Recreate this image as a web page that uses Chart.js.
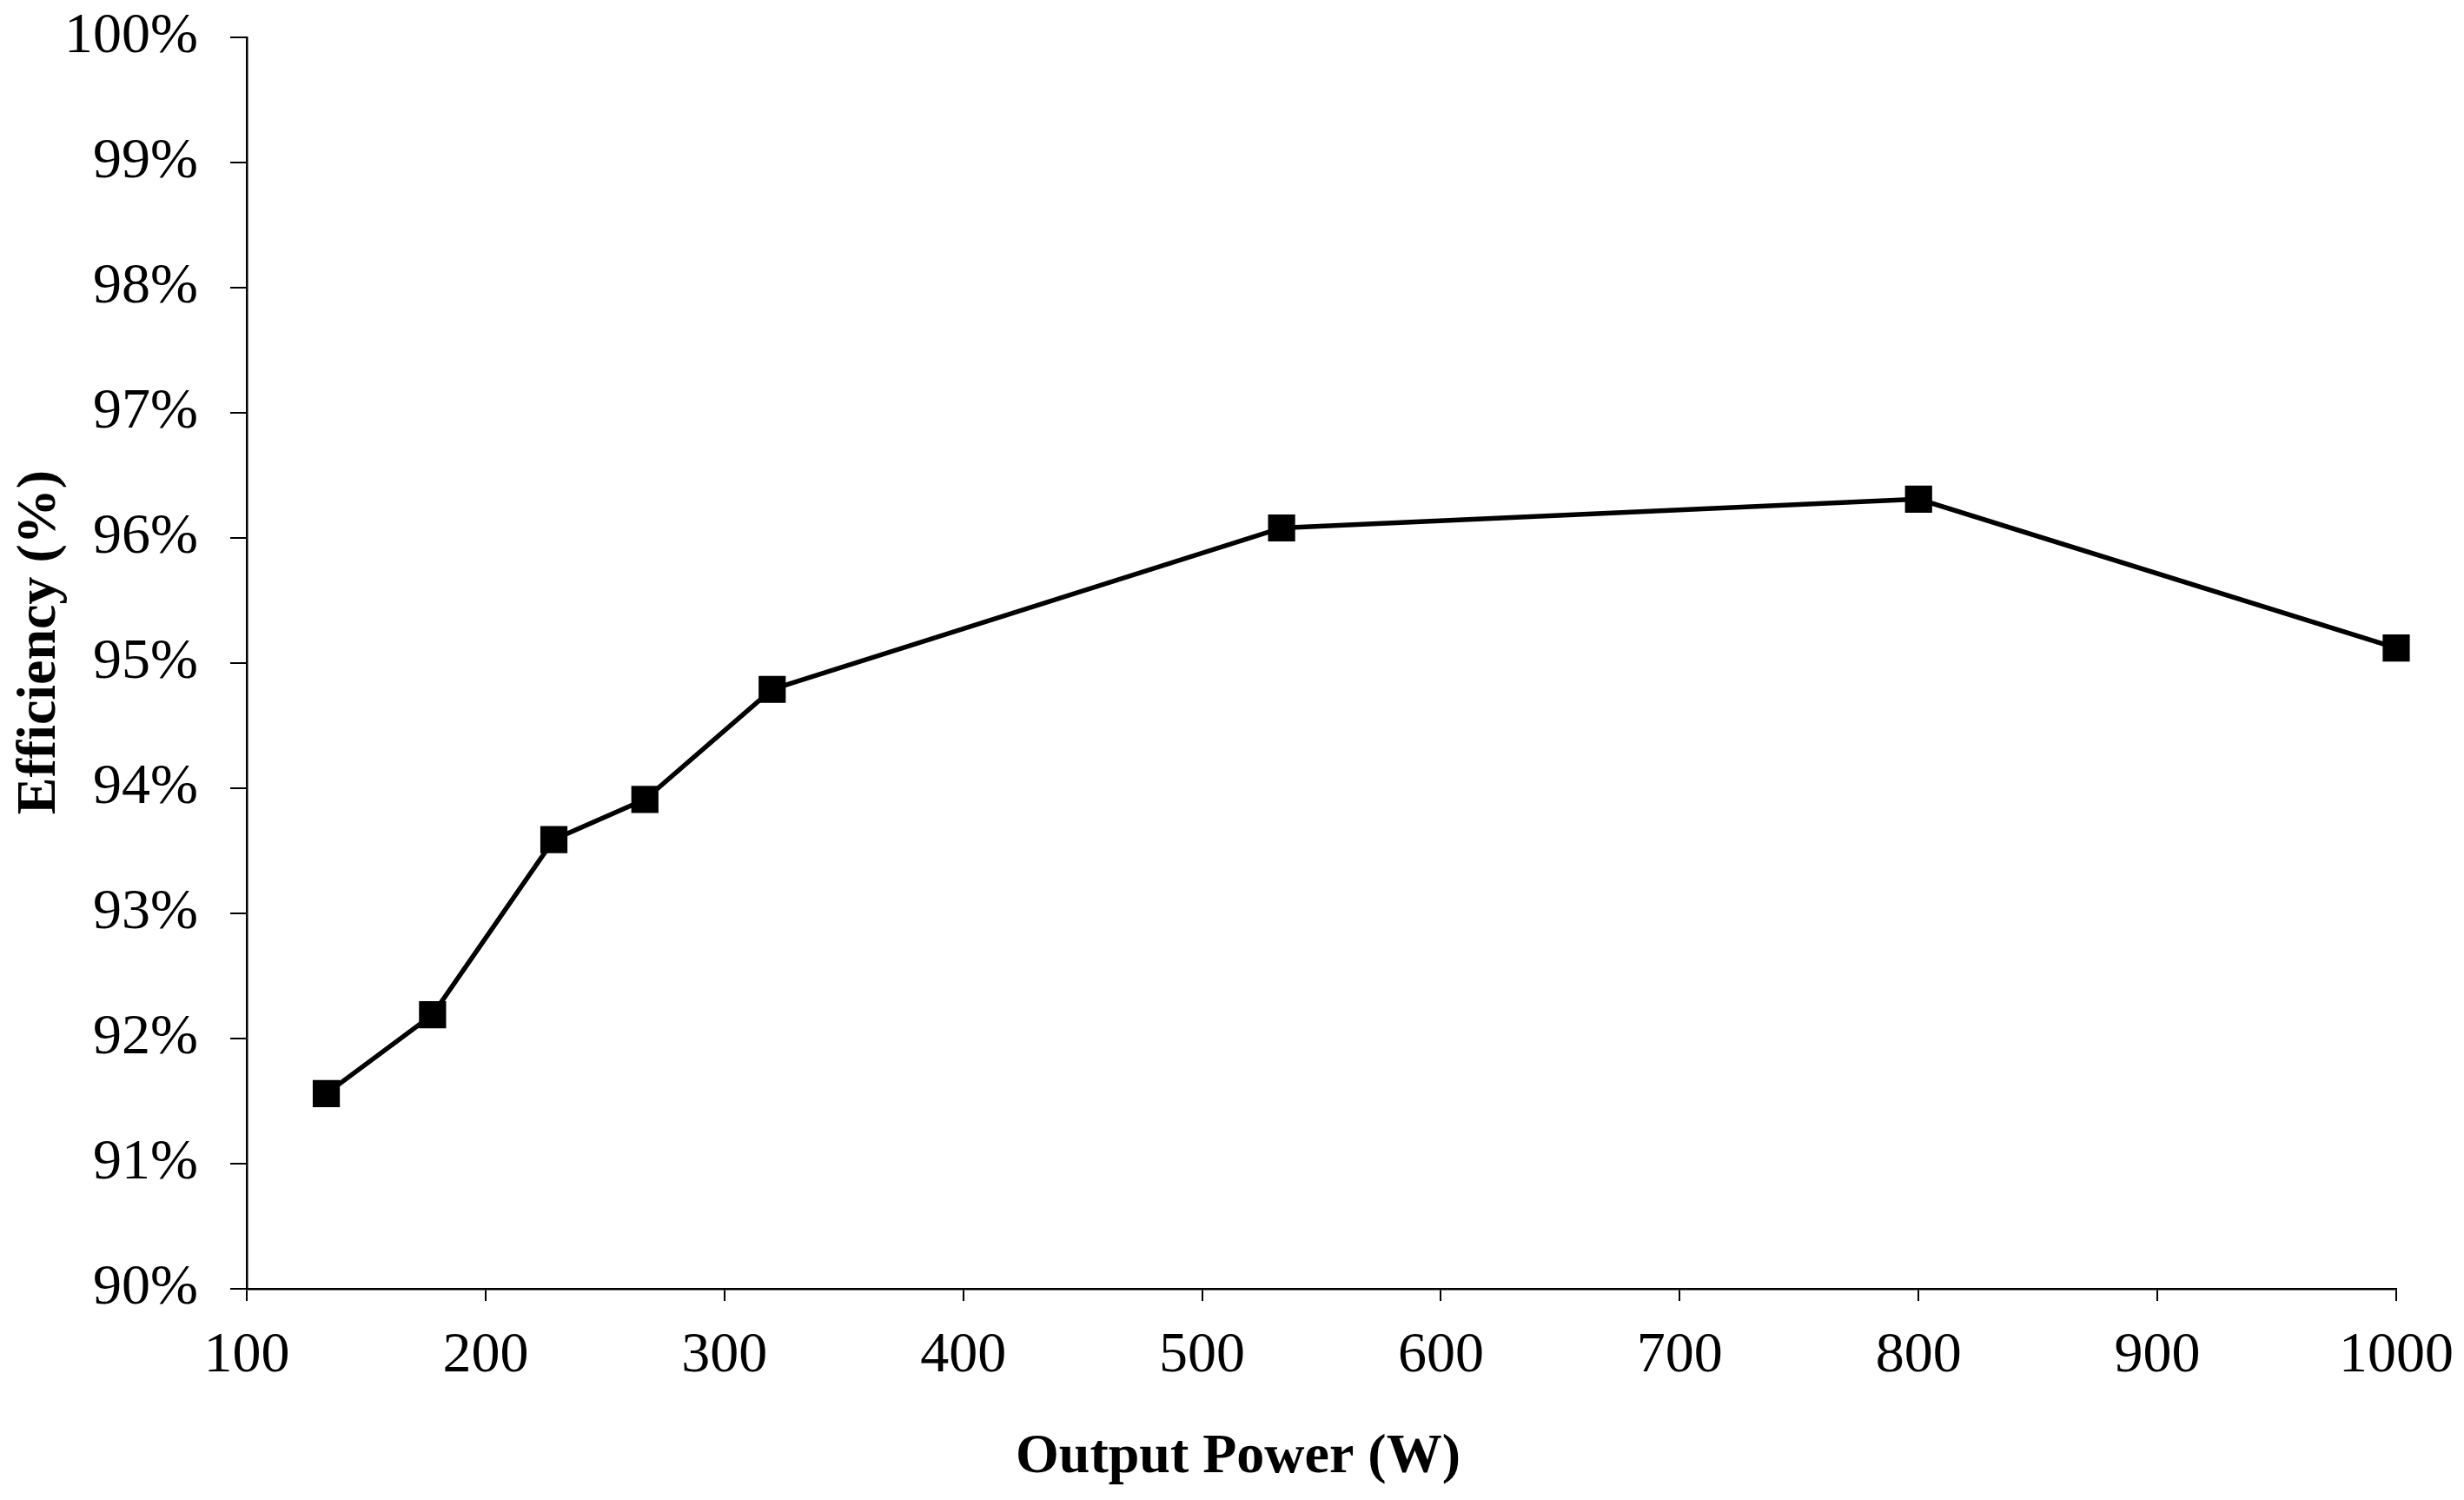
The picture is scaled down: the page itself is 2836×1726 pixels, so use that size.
<!DOCTYPE html>
<html>
<head>
<meta charset="utf-8">
<script src="https://cdn.jsdelivr.net/npm/chart.js@4/dist/chart.umd.min.js"></script>
<style>
  html, body { margin: 0; padding: 0; background: #fff; }
  #wrap { width: 2836px; height: 1726px; }
</style>
</head>
<body>
<div id="wrap"><canvas id="c" width="2836" height="1726"></canvas></div>
<script>
// Data
const outputPower = [133.3, 177.8, 228.6, 266.7, 320, 533.3, 800, 1000];
const efficiency  = [91.56, 92.19, 93.59, 93.91, 94.79, 96.08, 96.31, 95.12];
const xTickLabels = ['100','200','300','400','500','600','700','800','900','1000'];
const yTickLabels = ['90%','91%','92%','93%','94%','95%','96%','97%','98%','99%','100%'];
const xTitle = 'Output Power (W)';
const yTitle = 'Efficiency (%)';

const serif = "'Liberation Serif', 'Times New Roman', serif";

const points = outputPower.map((x, i) => ({ x: x, y: efficiency[i] }));

function noOverflowPadding(s) {
  s.paddingTop = 0; s.paddingBottom = 0; s.paddingLeft = 0; s.paddingRight = 0;
}

new Chart(document.getElementById('c'), {
  type: 'line',
  data: {
    datasets: [{
      data: points,
      borderColor: '#000',
      backgroundColor: '#000',
      borderWidth: 5.5,
      pointStyle: 'rect',
      pointRadius: 21,
      pointBorderWidth: 1.5,
      pointBackgroundColor: '#000',
      pointBorderColor: '#000',
      tension: 0,
      clip: false
    }]
  },
  options: {
    responsive: false,
    devicePixelRatio: 1,
    animation: false,
    events: [],
    layout: { padding: { top: 43, right: 78, left: 0, bottom: 0 } },
    plugins: {
      legend: { display: false },
      tooltip: { enabled: false },
      title: { display: false }
    },
    scales: {
      x: {
        type: 'linear',
        min: 100,
        max: 1000,
        afterFit: s => { s.height = 243; noOverflowPadding(s); },
        ticks: {
          stepSize: 100,
          color: '#000',
          font: { family: serif, size: 66 },
          padding: 24,
          maxRotation: 0,
          autoSkip: false,
          callback: (v) => {
            const i = Math.round((v - 100) / 100);
            return xTickLabels[i] !== undefined ? xTickLabels[i] : '';
          }
        },
        grid: {
          display: true,
          drawOnChartArea: false,
          drawTicks: true,
          tickLength: 14,
          color: '#000',
          lineWidth: 2
        },
        border: { display: true, color: '#000', width: 2.5 },
        title: {
          display: true,
          text: xTitle + '\u2003\u2003\u2003',
          color: '#000',
          font: { family: serif, size: 64, weight: 'bold' },
          padding: { top: 0, bottom: 10 }
        }
      },
      y: {
        type: 'linear',
        min: 90,
        max: 100,
        afterFit: s => { s.width = 284; noOverflowPadding(s); },
        ticks: {
          stepSize: 1,
          color: '#000',
          font: { family: serif, size: 66 },
          padding: 37,
          autoSkip: false,
          callback: (v) => {
            const i = Math.round(v - 90);
            return yTickLabels[i] !== undefined ? yTickLabels[i] : '';
          }
        },
        grid: {
          display: true,
          drawOnChartArea: false,
          drawTicks: true,
          tickLength: 19,
          color: '#000',
          lineWidth: 2
        },
        border: { display: true, color: '#000', width: 2.5 },
        title: {
          display: true,
          text: '   ' + yTitle,
          color: '#000',
          font: { family: serif, size: 64, weight: 'bold' },
          padding: { top: 8, bottom: 0 }
        }
      }
    }
  }
});
</script>
</body>
</html>
